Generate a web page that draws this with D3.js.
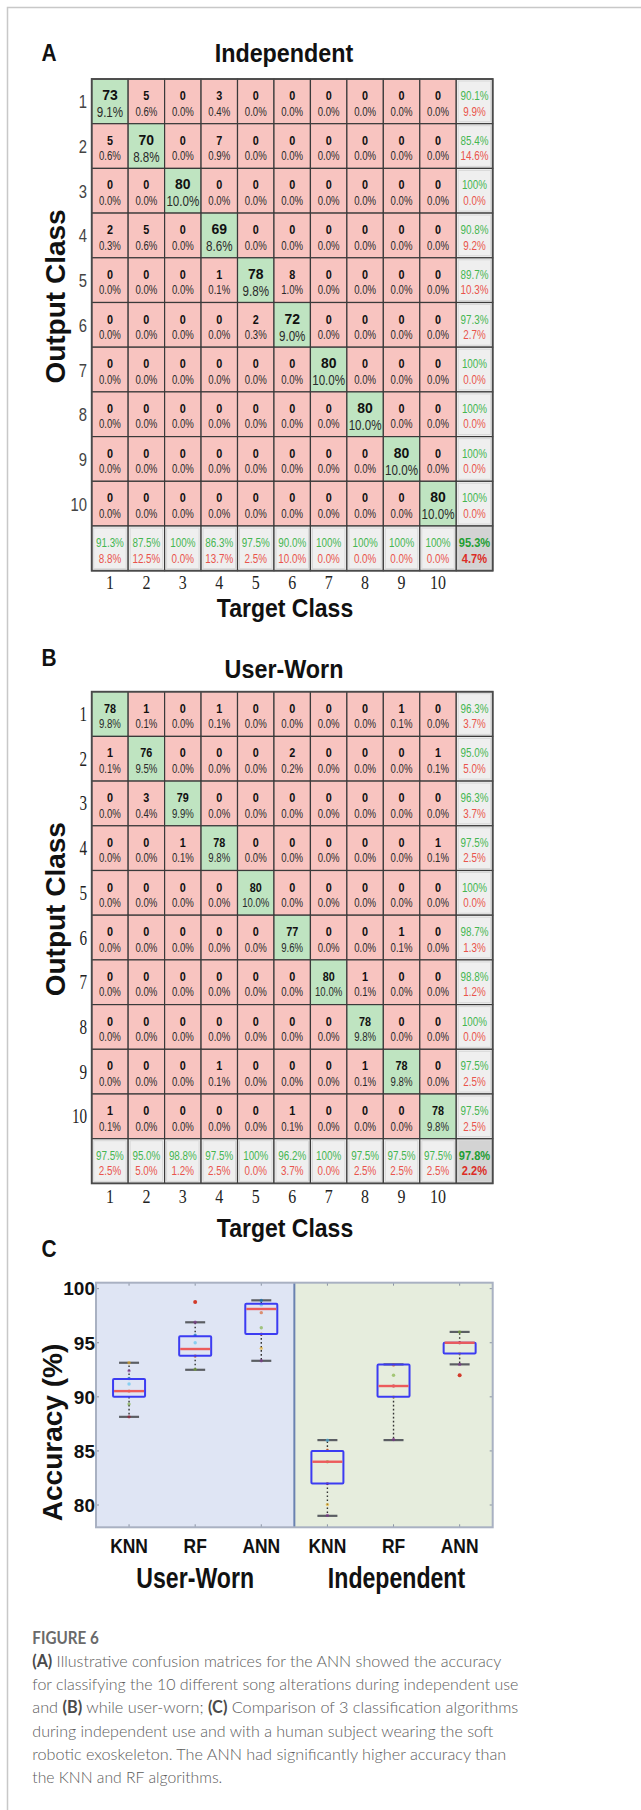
<!DOCTYPE html>
<html>
<head>
<meta charset="utf-8">
<script src="https://cdn.jsdelivr.net/npm/d3@7"></script>
<style>
  body { margin: 0; background: #ffffff; }
  svg { display: block; }
</style>
</head>
<body>
<svg id="fig" width="641" height="1810"></svg>
<script>
// ---------------- data ----------------
const classLabels = ["1","2","3","4","5","6","7","8","9","10"];

// Confusion matrix counts, rows = output class, columns = target class
const independentCounts = [
  [73, 5, 0, 3, 0, 0, 0, 0, 0, 0],
  [ 5,70, 0, 7, 0, 0, 0, 0, 0, 0],
  [ 0, 0,80, 0, 0, 0, 0, 0, 0, 0],
  [ 2, 5, 0,69, 0, 0, 0, 0, 0, 0],
  [ 0, 0, 0, 1,78, 8, 0, 0, 0, 0],
  [ 0, 0, 0, 0, 2,72, 0, 0, 0, 0],
  [ 0, 0, 0, 0, 0, 0,80, 0, 0, 0],
  [ 0, 0, 0, 0, 0, 0, 0,80, 0, 0],
  [ 0, 0, 0, 0, 0, 0, 0, 0,80, 0],
  [ 0, 0, 0, 0, 0, 0, 0, 0, 0,80]
];
const independentRowAcc = [90.1, 85.4, 100, 90.8, 89.7, 97.3, 100, 100, 100, 100];
const independentRowErr = [9.9, 14.6, 0, 9.2, 10.3, 2.7, 0, 0, 0, 0];
const independentColAcc = [91.3, 87.5, 100, 86.3, 97.5, 90.0, 100, 100, 100, 100];
const independentColErr = [8.8, 12.5, 0, 13.7, 2.5, 10.0, 0, 0, 0, 0];
const independentOverall = [95.3, 4.7];

const userWornCounts = [
  [78, 1, 0, 1, 0, 0, 0, 0, 1, 0],
  [ 1,76, 0, 0, 0, 2, 0, 0, 0, 1],
  [ 0, 3,79, 0, 0, 0, 0, 0, 0, 0],
  [ 0, 0, 1,78, 0, 0, 0, 0, 0, 1],
  [ 0, 0, 0, 0,80, 0, 0, 0, 0, 0],
  [ 0, 0, 0, 0, 0,77, 0, 0, 1, 0],
  [ 0, 0, 0, 0, 0, 0,80, 1, 0, 0],
  [ 0, 0, 0, 0, 0, 0, 0,78, 0, 0],
  [ 0, 0, 0, 1, 0, 0, 0, 1,78, 0],
  [ 1, 0, 0, 0, 0, 1, 0, 0, 0,78]
];
const userWornRowAcc = [96.3, 95.0, 96.3, 97.5, 100, 98.7, 98.8, 100, 97.5, 97.5];
const userWornRowErr = [3.7, 5.0, 3.7, 2.5, 0, 1.3, 1.2, 0, 2.5, 2.5];
const userWornColAcc = [97.5, 95.0, 98.8, 97.5, 100, 96.2, 100, 97.5, 97.5, 97.5];
const userWornColErr = [2.5, 5.0, 1.2, 2.5, 0, 3.7, 0, 2.5, 2.5, 2.5];
const userWornOverall = [97.8, 2.2];

// Accuracy comparison (box plot)
const boxAlgorithms = ["KNN", "RF", "ANN", "KNN", "RF", "ANN"];
const boxConditions = ["User-Worn", "Independent"];
const whiskerLow  = [88.15, 92.5, 93.33, 79.0, 86.0, 93.0];
const quartile1   = [90.0, 93.8, 95.8, 82.0, 90.0, 94.0];
const medians     = [90.53, 94.42, 98.12, 84.0, 91.0, 95.0];
const quartile3   = [91.64, 95.59, 98.61, 85.0, 93.0, 95.0];
const whiskerHigh = [93.15, 96.89, 98.92, 86.0, 93.0, 96.0];
const outliers    = [[], [98.77], [], [], [], [92.0]];
const foldScores  = [
  [93.15, 92.4, 91.7, 91.18, 90.53, 89.33, 88.15],
  [96.89, 95.7, 95.0, 93.77, 92.54],
  [98.9, 98.5, 97.78, 96.39, 95.8, 94.48, 93.33],
  [85.99, 85.06, 84.0, 81.98, 80.04, 79.04],
  [92.94, 92.0, 91.0, 90.0, 86.05],
  [96.0, 95.0, 94.0, 93.0]
];
const yTicks = [80, 85, 90, 95, 100];

const captionLines = [
  [["(A)", true], [" Illustrative confusion matrices for the ANN showed the accuracy", false]],
  [["for classifying the 10 different song alterations during independent use", false]],
  [["and ", false], ["(B)", true], [" while user-worn; ", false], ["(C)", true], [" Comparison of 3 classification algorithms", false]],
  [["during independent use and with a human subject wearing the soft", false]],
  [["robotic exoskeleton. The ANN had significantly higher accuracy than", false]],
  [["the KNN and RF algorithms.", false]]
];
const captionWidths = [469, 486, 486, 461, 474, 190];

// ---------------- helpers ----------------
const SANS = "'Liberation Sans', Arial, Helvetica, sans-serif";
const SERIF = "'Liberation Serif', 'Times New Roman', serif";
const svg = d3.select("#fig");

// narrow text horizontally by factor k
function squish(sel, k) {
  sel.each(function () {
    const w = this.getComputedTextLength();
    d3.select(this).attr("textLength", w * k).attr("lengthAdjust", "spacingAndGlyphs");
  });
}

// one decimal with optional round-half-to-even on exact ties
function pct1(v, tieEven) {
  const t = v * 20;
  if (tieEven && Number.isInteger(t) && t % 2 === 1) {
    const lo = Math.floor(v * 10);
    const n = lo % 2 === 0 ? lo : lo + 1;
    return (n / 10).toFixed(1) + "%";
  }
  return v.toFixed(1) + "%";
}
function marginLabel(v) {
  return v === 100 ? "100%" : v.toFixed(1) + "%";
}

// figure frame
svg.append("path")
  .attr("d", "M7.5,1810 V7.5 H641")
  .attr("fill", "none").attr("stroke", "#c8c8c8").attr("stroke-width", 1.5);

// ---------------- confusion matrices ----------------
const gridX0 = 91.7, gridX1 = 492.7, cellH = 44.7;
const GREEN_CELL = "#bfe4c1", RED_CELL = "#f8c4c0", SUM_CELL = "#efefef", CORNER_CELL = "#d3d3d3";
const GREEN_TXT = "#45b651", RED_TXT = "#e9544c";

function drawMatrix(cfg) {
  const n = cfg.counts.length;
  const total = d3.sum(cfg.counts.flat());
  const g = svg.append("g");
  const x = d3.scaleBand().domain(d3.range(n + 1)).range([gridX0, gridX1]);
  const y = d3.scaleBand().domain(d3.range(n + 1)).range([cfg.top, cfg.top + cellH * (n + 1)]);
  const cw = x.bandwidth(), ch = y.bandwidth();

  // panel letter and title
  g.append("text").attr("x", 41.5).attr("y", cfg.letterY)
    .attr("font-family", SANS).attr("font-weight", "bold").attr("font-size", 24)
    .attr("fill", "#111").text(cfg.letter).call(squish, 0.87);
  g.append("text").attr("x", 284).attr("y", cfg.titleY).attr("text-anchor", "middle")
    .attr("font-family", SANS).attr("font-weight", "bold").attr("font-size", 26.5)
    .attr("fill", "#111").text(cfg.title).call(squish, 0.88);

  // cells
  const cells = [];
  cfg.counts.forEach((row, r) => row.forEach((v, c) => cells.push({ r, c, v })));
  const cg = g.append("g");
  cg.selectAll("rect.cell").data(cells).join("rect")
    .attr("class", "cell")
    .attr("x", d => x(d.c)).attr("y", d => y(d.r))
    .attr("width", cw).attr("height", ch)
    .attr("fill", d => d.r === d.c ? GREEN_CELL : RED_CELL)
    .attr("stroke", "#3a3a3a").attr("stroke-width", 1.2);

  const big = d => cfg.bigDiag && d.r === d.c;
  cg.selectAll("text.count").data(cells).join("text")
    .attr("class", "count")
    .attr("x", d => x(d.c) + cw / 2).attr("y", d => y(d.r) + 21)
    .attr("text-anchor", "middle").attr("font-family", SANS).attr("font-weight", "bold")
    .attr("font-size", d => big(d) ? 15.5 : 12)
    .attr("fill", "#111").text(d => d.v).call(squish, 0.9);
  cg.selectAll("text.pct").data(cells).join("text")
    .attr("class", "pct")
    .attr("x", d => x(d.c) + cw / 2).attr("y", d => y(d.r) + (big(d) ? 38 : 36.5))
    .attr("text-anchor", "middle").attr("font-family", SANS)
    .attr("font-size", d => big(d) ? 14.5 : 12)
    .attr("fill", "#2a2a2a").text(d => pct1(d.v / total * 100, cfg.tieEven)).call(squish, 0.8);

  // summary column (per output class) and summary row (per target class)
  const sums = [];
  cfg.rowAcc.forEach((a, r) => sums.push({ r, c: n, a, e: cfg.rowErr[r] }));
  cfg.colAcc.forEach((a, c) => sums.push({ r: n, c, a, e: cfg.colErr[c] }));
  sums.push({ r: n, c: n, a: cfg.overall[0], e: cfg.overall[1], corner: true });
  const sg = g.append("g");
  sg.selectAll("rect").data(sums).join("rect")
    .attr("x", d => x(d.c)).attr("y", d => y(d.r))
    .attr("width", cw).attr("height", ch)
    .attr("fill", d => d.corner ? CORNER_CELL : SUM_CELL)
    .attr("stroke", "#3a3a3a").attr("stroke-width", 1.2);
  sg.selectAll("rect.inner").data(sums).join("rect")
    .attr("class", "inner")
    .attr("x", d => x(d.c) + 2).attr("y", d => y(d.r) + 2)
    .attr("width", cw - 4).attr("height", ch - 4)
    .attr("fill", "none").attr("stroke", "#d8d8d8").attr("stroke-width", 1);
  sg.selectAll("text.acc").data(sums).join("text")
    .attr("class", "acc")
    .attr("x", d => x(d.c) + cw / 2).attr("y", d => y(d.r) + 21)
    .attr("text-anchor", "middle").attr("font-family", SANS)
    .attr("font-weight", d => d.corner ? "bold" : "normal")
    .attr("font-size", d => d.corner ? 13.5 : 12)
    .attr("fill", d => d.corner ? "#1f9e33" : GREEN_TXT)
    .text(d => marginLabel(d.a)).call(squish, 0.82);
  sg.selectAll("text.err").data(sums).join("text")
    .attr("class", "err")
    .attr("x", d => x(d.c) + cw / 2).attr("y", d => y(d.r) + 36.5)
    .attr("text-anchor", "middle").attr("font-family", SANS)
    .attr("font-weight", d => d.corner ? "bold" : "normal")
    .attr("font-size", d => d.corner ? 13.5 : 12)
    .attr("fill", d => d.corner ? "#dc2c25" : RED_TXT)
    .text(d => d.e.toFixed(1) + "%").call(squish, 0.82);

  // outer frame
  g.append("rect").attr("x", gridX0).attr("y", cfg.top)
    .attr("width", gridX1 - gridX0).attr("height", cellH * (n + 1))
    .attr("fill", "none").attr("stroke", "#4a4a4a").attr("stroke-width", 1.8);

  // row labels (output class)
  g.selectAll("text.rowlab").data(classLabels).join("text")
    .attr("class", "rowlab")
    .attr("x", 87).attr("y", (d, i) => y(i) + ch / 2 + 7)
    .attr("text-anchor", "end")
    .attr("font-family", cfg.rowSerif ? SERIF : SANS)
    .attr("font-size", cfg.rowSerif ? 21 : 19)
    .attr("fill", cfg.rowSerif ? "#222" : "#444").text(d => d)
    .call(squish, cfg.rowSerif ? 0.72 : 0.78);

  // column labels (target class)
  g.selectAll("text.collab").data(classLabels).join("text")
    .attr("class", "collab")
    .attr("x", (d, i) => x(i) + cw / 2).attr("y", cfg.colLabelY)
    .attr("text-anchor", "middle").attr("font-family", SERIF).attr("font-size", 19)
    .attr("fill", "#222").text(d => d).call(squish, 0.84);

  g.append("text").attr("x", 285).attr("y", cfg.targetY).attr("text-anchor", "middle")
    .attr("font-family", SANS).attr("font-weight", "bold").attr("font-size", 26)
    .attr("fill", "#111").text("Target Class").call(squish, 0.885);

  const cy = (y(0) + y(n - 1) + ch) / 2 - 6;
  g.append("text")
    .attr("transform", `translate(65,${cy}) rotate(-90)`)
    .attr("text-anchor", "middle").attr("font-family", SANS).attr("font-weight", "bold")
    .attr("font-size", 28).attr("fill", "#111").text("Output Class");
}

drawMatrix({
  counts: independentCounts, rowAcc: independentRowAcc, rowErr: independentRowErr,
  colAcc: independentColAcc, colErr: independentColErr, overall: independentOverall,
  top: 79, letter: "A", letterY: 60.5, title: "Independent", titleY: 62,
  colLabelY: 588.5, targetY: 616.5, bigDiag: true, rowSerif: false, tieEven: false
});
drawMatrix({
  counts: userWornCounts, rowAcc: userWornRowAcc, rowErr: userWornRowErr,
  colAcc: userWornColAcc, colErr: userWornColErr, overall: userWornOverall,
  top: 691.7, letter: "B", letterY: 666, title: "User-Worn", titleY: 678,
  colLabelY: 1202.5, targetY: 1237, bigDiag: false, rowSerif: true, tieEven: true
});

// ---------------- accuracy box plot ----------------
const plotL = 96, plotR = 492.7, plotT = 1282.7, plotB = 1527.3;
const bx = d3.scaleBand().domain(d3.range(boxAlgorithms.length)).range([plotL, plotR]);
const by = d3.scaleLinear().domain([77.94, 100.55]).range([plotB, plotT]);
const cx = i => bx(i) + bx.bandwidth() / 2;
const boxW = 32, capW = 20;
const foldColors = ["#EDB120", "#7E2F8E", "#0072BD", "#4DBEEE", "#D95319", "#77AC30", "#A2142F"];

const pc = svg.append("g");
pc.append("text").attr("x", 41.5).attr("y", 1256.5)
  .attr("font-family", SANS).attr("font-weight", "bold").attr("font-size", 24)
  .attr("fill", "#111").text("C").call(squish, 0.87);

const midX = (plotL + plotR) / 2;
pc.append("rect").attr("x", plotL).attr("y", plotT).attr("width", midX - plotL).attr("height", plotB - plotT)
  .attr("fill", "#dfe5f4");
pc.append("rect").attr("x", midX).attr("y", plotT).attr("width", plotR - midX).attr("height", plotB - plotT)
  .attr("fill", "#e6eddd");

// tick marks inside the frame
pc.selectAll("line.yt").data(yTicks).join("line")
  .attr("x1", plotL).attr("x2", plotL + 3).attr("y1", d => by(d)).attr("y2", d => by(d))
  .attr("stroke", "#8a93a3").attr("stroke-width", 1);
pc.selectAll("line.ytr").data(yTicks).join("line")
  .attr("x1", plotR - 3).attr("x2", plotR).attr("y1", d => by(d)).attr("y2", d => by(d))
  .attr("stroke", "#8a93a3").attr("stroke-width", 1);
pc.selectAll("line.xt").data(boxAlgorithms).join("line")
  .attr("x1", (d, i) => cx(i)).attr("x2", (d, i) => cx(i)).attr("y1", plotT).attr("y2", plotT + 3)
  .attr("stroke", "#8a93a3").attr("stroke-width", 1);
pc.selectAll("line.xb").data(boxAlgorithms).join("line")
  .attr("x1", (d, i) => cx(i)).attr("x2", (d, i) => cx(i)).attr("y1", plotB - 3).attr("y2", plotB)
  .attr("stroke", "#8a93a3").attr("stroke-width", 1);

// divider between conditions
pc.append("line").attr("x1", midX).attr("x2", midX).attr("y1", plotT).attr("y2", plotB)
  .attr("stroke", "#6a82b0").attr("stroke-width", 2);

// whiskers
const bg = pc.append("g");
boxAlgorithms.forEach((a, i) => {
  const x = cx(i);
  bg.append("line").attr("x1", x).attr("x2", x).attr("y1", by(quartile3[i])).attr("y2", by(whiskerHigh[i]))
    .attr("stroke", "#333").attr("stroke-width", 1.4).attr("stroke-dasharray", "1.6,2.4");
  bg.append("line").attr("x1", x).attr("x2", x).attr("y1", by(quartile1[i])).attr("y2", by(whiskerLow[i]))
    .attr("stroke", "#333").attr("stroke-width", 1.4).attr("stroke-dasharray", "1.6,2.4");
  [whiskerLow[i], whiskerHigh[i]].forEach(v => {
    bg.append("line").attr("x1", x - capW / 2).attr("x2", x + capW / 2).attr("y1", by(v)).attr("y2", by(v))
      .attr("stroke", "#5b5e63").attr("stroke-width", 2.2);
  });
});
// individual fold scores
boxAlgorithms.forEach((a, i) => {
  bg.selectAll(null).data(foldScores[i]).join("circle")
    .attr("cx", cx(i)).attr("cy", d => by(d)).attr("r", 1.7)
    .attr("fill", (d, j) => foldColors[(j + i) % foldColors.length]).attr("opacity", 0.6);
});
// boxes and medians
boxAlgorithms.forEach((a, i) => {
  const x = cx(i);
  bg.append("rect").attr("x", x - boxW / 2).attr("y", by(quartile3[i]))
    .attr("width", boxW).attr("height", by(quartile1[i]) - by(quartile3[i]))
    .attr("fill", "none").attr("stroke", "#3c3cf2").attr("stroke-width", 2).attr("rx", 1);
  bg.append("line").attr("x1", x - boxW / 2 + 1).attr("x2", x + boxW / 2 - 1)
    .attr("y1", by(medians[i])).attr("y2", by(medians[i]))
    .attr("stroke", "#ec5b5b").attr("stroke-width", 2.4);
  bg.selectAll(null).data(outliers[i]).join("circle")
    .attr("cx", x).attr("cy", d => by(d)).attr("r", 2)
    .attr("fill", "#d23a2a");
});

// frame
pc.append("rect").attr("x", plotL).attr("y", plotT).attr("width", plotR - plotL).attr("height", plotB - plotT)
  .attr("fill", "none").attr("stroke", "#a9b1c2").attr("stroke-width", 2);

// y axis labels
pc.selectAll("text.ylab").data(yTicks).join("text")
  .attr("x", 95).attr("y", d => by(d) + 6.8).attr("text-anchor", "end")
  .attr("font-family", SANS).attr("font-weight", "bold").attr("font-size", 19)
  .attr("fill", "#111").text(d => d);
pc.append("text")
  .attr("transform", `translate(62,${(1343 + 1522) / 2}) rotate(-90)`)
  .attr("text-anchor", "middle").attr("font-family", SANS).attr("font-weight", "bold")
  .attr("font-size", 28).attr("fill", "#111").text("Accuracy (%)");

// x labels
pc.selectAll("text.xlab").data(boxAlgorithms).join("text")
  .attr("x", (d, i) => cx(i)).attr("y", 1553).attr("text-anchor", "middle")
  .attr("font-family", SANS).attr("font-weight", "bold").attr("font-size", 21)
  .attr("fill", "#111").text(d => d).call(squish, 0.83);
pc.selectAll("text.grp").data(boxConditions).join("text")
  .attr("x", (d, k) => d3.mean([0, 1, 2].map(j => cx(k * 3 + j))) + (k ? 3 : 0))
  .attr("y", 1588).attr("text-anchor", "middle")
  .attr("font-family", SANS).attr("font-weight", "bold").attr("font-size", 30)
  .attr("fill", "#111").text(d => d).call(squish, 0.77);

// ---------------- caption ----------------
const cap = svg.append("g").attr("font-family", "Lato, 'Open Sans', sans-serif");
cap.append("text").attr("x", 32.3).attr("y", 1643.5)
  .attr("font-size", 16.5).attr("font-weight", "bold").attr("fill", "#6a6a6a")
  .text("FIGURE 6").attr("textLength", 66.5).attr("lengthAdjust", "spacingAndGlyphs");
captionLines.forEach((parts, li) => {
  const t = cap.append("text").attr("x", 32.3).attr("y", 1666.7 + li * 23.35)
    .attr("font-size", 16.5).attr("fill", "#5c5c5c").attr("font-weight", 300);
  parts.forEach(([s, b]) => {
    t.append("tspan").attr("font-weight", b ? "bold" : 300).attr("fill", b ? "#4a4a4a" : "#5c5c5c").text(s);
  });
  t.attr("textLength", captionWidths[li]).attr("lengthAdjust", "spacingAndGlyphs");
});
</script>
</body>
</html>
